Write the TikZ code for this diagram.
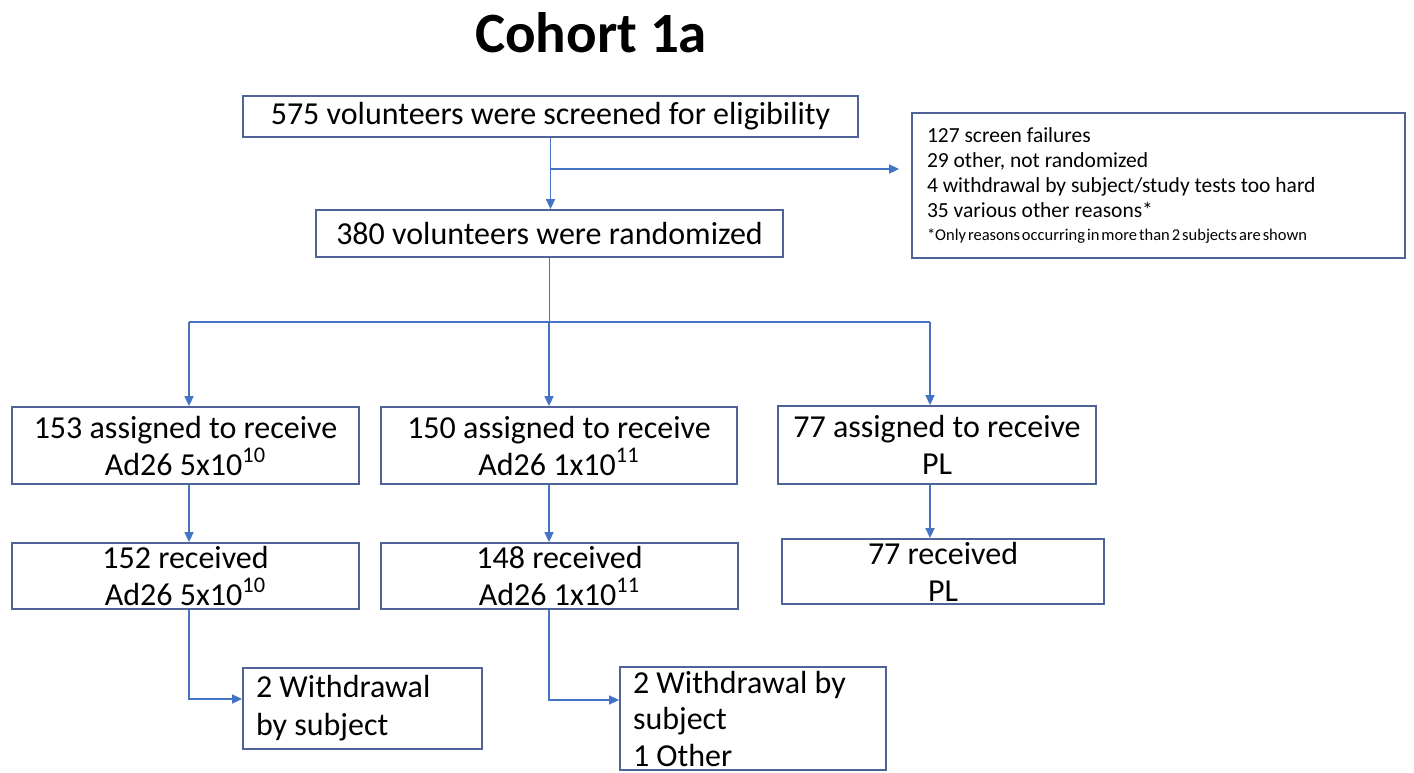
\documentclass[tikz,border=0pt]{standalone}
\usepackage{fontspec}
\setmainfont{Carlito}
\usetikzlibrary{arrows.meta}
\definecolor{flowline}{HTML}{4472C4}
\definecolor{boxline}{HTML}{4F6399}
\tikzset{
    box/.style={draw=boxline, line width=0.9pt, inner xsep=6pt, inner ysep=0pt, align=center, font=\fontsize{16}{18.5}\selectfont},
    leftbox/.style={box, align=flush left, inner xsep=6.5pt},
    flow/.style={draw=flowline, line width=0.75pt, -{Triangle[length=5pt,width=4.5pt]}},
    link/.style={draw=flowline, line width=0.75pt}
}
\begin{document}
\begin{tikzpicture}[x=0.5pt,y=-0.5pt]
            \useasboundingbox (0,0) rectangle (1414,772);
            \node[font=\bfseries\fontsize{28.5}{34}\selectfont](title) at (591,33){Cohort 1a};
            \node[box, minimum width=307.5pt, minimum height=20.5pt](b1) at (550.5,116.5){575 volunteers were screened for eligibility};
            \node[box, minimum width=233.5pt, minimum height=23.5pt](b2) at (549.5,233.5){380 volunteers were randomized};
            \node[leftbox, inner xsep=7.5pt, text width=231.5pt, minimum height=72.5pt, font=\fontsize{10.75}{12.5}\selectfont](fail) at (1158.5,185.5){127 screen failures\\
                29 other, not randomized\\
                4 withdrawal by subject/study tests too hard\\
                35 various other reasons*\\[-1pt]
                {\fontsize{8.25}{9}\selectfont\spaceskip=1pt *Only reasons occurring in more than 2 subjects are shown}\\[2pt]};
            \node[box, minimum width=173.5pt, minimum height=38.5pt](b3a) at (185.5,445.5){153 assigned to receive\\Ad26 5x10\textsuperscript{10}};
            \node[box, minimum width=178pt, minimum height=38.5pt](b3b) at (559,445.5){150 assigned to receive\\Ad26 1x10\textsuperscript{11}};
            \node[box, minimum width=159pt, minimum height=39pt](b3c) at (937,445){77 assigned to receive\\PL};
            \node[box, minimum width=173.5pt, minimum height=33pt](b4a) at (185.5,576){152 received\\Ad26 5x10\textsuperscript{10}};
            \node[box, minimum width=178.5pt, minimum height=33pt](b4b) at (559.5,576){148 received\\Ad26 1x10\textsuperscript{11}};
            \node[box, minimum width=161pt, minimum height=32.5pt](b4c) at (943,571.5){77 received\\PL};
            \node[leftbox, text width=106.5pt, minimum height=40.5pt, font=\fontsize{16}{19}\selectfont](b5a) at (362.5,708.5){2 Withdrawal\\by subject};
            \node[leftbox, text width=120pt, minimum height=51.5pt, font=\fontsize{16}{18.25}\selectfont](b5b) at (753,718.5){2 Withdrawal by\\subject\\1 Other};
            \coordinate(s1) at (550,169);
            \coordinate(s2) at (549,322);
            \coordinate(sl) at (189,322);
            \coordinate(sr) at (930,322);
            \draw[flow] (b1.south) -- (b1.south |- b2.north);
            \draw[flow, shorten >=6pt] (s1) -- (s1 -| fail.west);
            \draw[link] (b2.south) -- (b2.south |- s2);
            \draw[link] (sl) -- (sr);
            \draw[flow] (sl) -- (sl |- b3a.north);
            \draw[flow] (s2) -- (s2 |- b3b.north);
            \draw[flow] (sr) -- (sr |- b3c.north);
            \draw[flow] (b3a.south -| sl) -- (b4a.north -| sl);
            \draw[flow] (b3b.south -| s2) -- (b4b.north -| s2);
            \draw[flow] (b3c.south -| sr) -- (b4c.north -| sr);
            \draw[flow] (b4a.south -| sl) |- ([yshift=4.75pt]b5a.west);
            \draw[flow] (b4b.south -| s2) |- ([yshift=9.25pt]b5b.west);
        \end{tikzpicture}
\end{document}
